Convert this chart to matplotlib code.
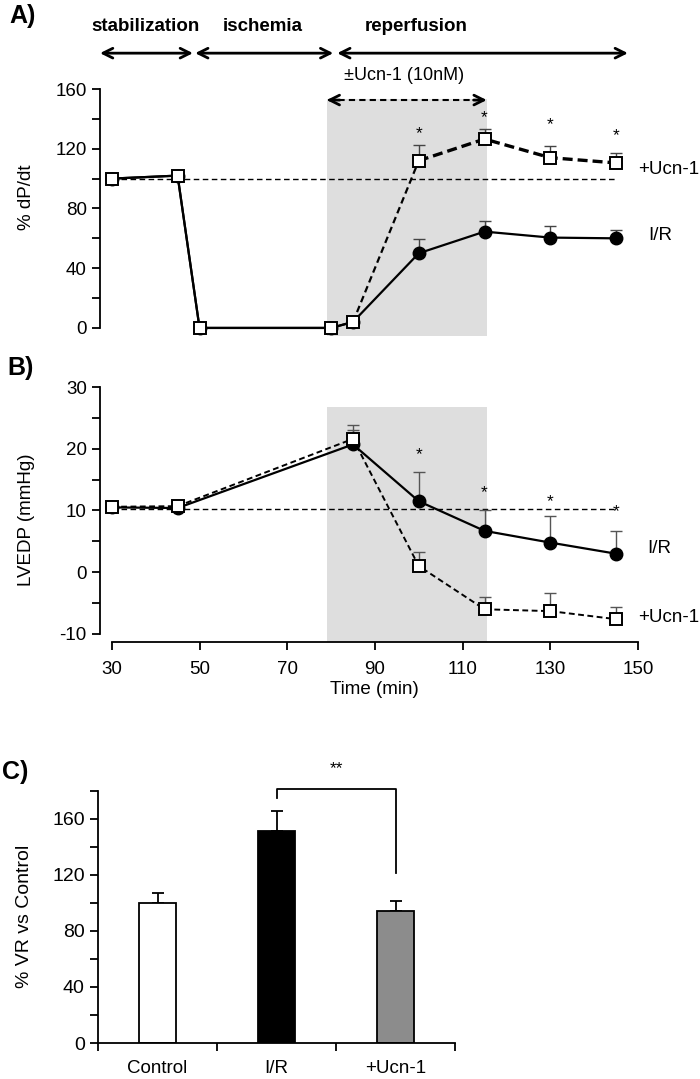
import matplotlib
matplotlib.use("Agg")
import matplotlib.pyplot as plt
import numpy as np

plt.rcParams['font.family'] = ['Liberation Sans', 'DejaVu Sans']

# ---- data ----
time_a = [30, 45, 50, 80, 85, 100, 115, 130, 145]
dpdt_ir = [100, 102, 0, 0, 4, 50, 64.5, 60.5, 60]
dpdt_ir_err = [0, 0, 0, 0, 0, 9.6, 7.3, 8.0, 5.6]
dpdt_ucn = [100, 102, 0, 0, 4, 112, 126.5, 114, 110.5]
dpdt_ucn_err = [0, 0, 0, 0, 0, 10.5, 7.0, 7.6, 6.4]

time_b = [30, 45, 85, 100, 115, 130, 145]
lvedp_ir = [10.5, 10.4, 20.7, 11.5, 6.7, 4.8, 3.0]
lvedp_ir_err = [0, 0, 2.3, 4.7, 3.4, 4.3, 3.7]
lvedp_ucn = [10.6, 10.7, 21.6, 1.0, -6.0, -6.3, -7.6]
lvedp_ucn_err = [0, 0, 2.3, 2.3, 2.0, 3.0, 1.9]

star_times = [100, 115, 130, 145]
stars_a = [130, 141, 136, 128.5]
stars_b = [19, 12.9, 11.4, 9.8]

bar_labels = ['Control', 'I/R', '+Ucn-1']
bar_values = [100, 151, 94.5]
bar_errs = [6.7, 14.5, 6.5]
bar_colors = ['white', 'black', '#8c8c8c']

W, H = 700, 1079
fig = plt.figure(figsize=(W/100, H/100), dpi=100)

def fpos(left, right, top, bottom):
    return [left/W, 1-bottom/H, (right-left)/W, (bottom-top)/H]

XL = (27.3, 150)
FS = 13.5

# ---------- Panel A ----------
axA = fig.add_axes(fpos(100, 638, 89, 336))
axA.set_xlim(*XL)
axA.set_ylim(-5.4, 160)
axA.axvspan(79, 115.5, ymin=0, ymax=(153-(-5.4))/(165.4), color='#dedede', lw=0, zorder=0)
axA.plot([30, 145], [100, 100], color='black', lw=1.0, dashes=(4, 2.5), zorder=1)
axA.errorbar(time_a, dpdt_ir, yerr=[np.zeros(len(dpdt_ir_err)), dpdt_ir_err], fmt='none',
             ecolor='#444444', elinewidth=1, capsize=4, capthick=1, zorder=2)
axA.errorbar(time_a, dpdt_ucn, yerr=[np.zeros(len(dpdt_ucn_err)), dpdt_ucn_err], fmt='none',
             ecolor='#444444', elinewidth=1, capsize=4, capthick=1, zorder=2)
axA.plot(time_a, dpdt_ir, color='black', lw=1.6, marker='o', ms=9, mfc='black', mec='black', zorder=3)
axA.plot(time_a[4:6], dpdt_ucn[4:6], color='black', lw=1.6, dashes=(3, 1.8), zorder=3)
axA.plot(time_a[5:], dpdt_ucn[5:], color='black', lw=2.4, dashes=(3, 1.5), zorder=3)
axA.plot(time_a[:5], dpdt_ucn[:5], color='black', lw=1.6, zorder=3)
axA.plot(time_a, dpdt_ucn, ls='none', marker='s', ms=9, mfc='white', mec='black', mew=1.4, zorder=4)
for t, s in zip(star_times, stars_a):
    axA.text(t, s, '*', ha='center', va='center', fontsize=12.5)
for s in ['top', 'right', 'bottom']:
    axA.spines[s].set_visible(False)
axA.spines['left'].set_bounds(0, 160)
axA.spines['left'].set_linewidth(1.3)
axA.set_yticks(np.arange(0, 161, 20))
axA.set_yticklabels([str(v) if v % 40 == 0 else '' for v in range(0, 161, 20)])
axA.tick_params(axis='y', direction='out', length=6, width=1.3, labelsize=FS)
axA.set_xticks([])
axA.set_ylabel('% dP/dt', fontsize=FS)
axA.yaxis.set_label_coords(-0.121, 0.56)
axA.text(150, 105.8, '+Ucn-1', fontsize=FS, va='center', ha='left', clip_on=False)
axA.text(152.3, 62.2, 'I/R', fontsize=FS, va='center', ha='left', clip_on=False)

# phase arrows
ya = 184
for x0, x1 in [(27.3, 48.5), (49, 80.5), (81.4, 147.7)]:
    axA.annotate('', xy=(x1, ya), xytext=(x0, ya), annotation_clip=False,
                 arrowprops=dict(arrowstyle='<->,head_length=0.7,head_width=0.35', lw=2, color='black',
                                 shrinkA=0, shrinkB=0))
for xc, lab in [(37.7, 'stabilization'), (64.4, 'ischemia'), (99.3, 'reperfusion')]:
    axA.text(xc, 202, lab, fontsize=FS, fontweight='bold', ha='center', va='center', clip_on=False)
axA.text(96.6, 169.3, '±Ucn-1 (10nM)', fontsize=FS - 0.5, ha='center', va='center', clip_on=False)
yd = 152.6
axA.plot([79.3, 115.2], [yd, yd], color='black', lw=1.5, dashes=(3, 2), clip_on=False, zorder=5)
axA.annotate('', xy=(79, yd), xytext=(82, yd), annotation_clip=False,
             arrowprops=dict(arrowstyle='->,head_length=0.7,head_width=0.35', lw=2, color='black',
                             shrinkA=0, shrinkB=0))
axA.annotate('', xy=(115.5, yd), xytext=(112.5, yd), annotation_clip=False,
             arrowprops=dict(arrowstyle='->,head_length=0.7,head_width=0.35', lw=2, color='black',
                             shrinkA=0, shrinkB=0))

# ---------- Panel B ----------
axB = fig.add_axes(fpos(100, 638, 387, 642))
axB.set_xlim(*XL)
axB.set_ylim(-11.3, 30)
axB.axvspan(79, 115.5, ymin=0, ymax=(26.8+11.3)/41.3, color='#dedede', lw=0, zorder=0)
axB.plot([30, 145], [10.2, 10.2], color='black', lw=1.0, dashes=(4, 2.5), zorder=1)
axB.errorbar(time_b, lvedp_ir, yerr=[np.zeros(len(lvedp_ir_err)), lvedp_ir_err], fmt='none',
             ecolor='#555555', elinewidth=1, capsize=4, capthick=1, zorder=2)
axB.errorbar(time_b, lvedp_ucn, yerr=[np.zeros(len(lvedp_ucn_err)), lvedp_ucn_err], fmt='none',
             ecolor='#555555', elinewidth=1, capsize=4, capthick=1, zorder=2)
axB.plot(time_b, lvedp_ir, color='black', lw=1.6, marker='o', ms=9, mfc='black', mec='black', zorder=3)
axB.plot(time_b, lvedp_ucn, color='black', lw=1.4, dashes=(3, 1.8), marker='s', ms=9,
         mfc='white', mec='black', mew=1.4, zorder=4)
for t, s in zip(star_times, stars_b):
    axB.text(t, s, '*', ha='center', va='center', fontsize=12.5)
for s in ['top', 'right']:
    axB.spines[s].set_visible(False)
axB.spines['left'].set_bounds(-10, 30)
axB.spines['bottom'].set_bounds(30, 150)
axB.spines['left'].set_linewidth(1.3)
axB.spines['bottom'].set_linewidth(1.3)
axB.set_yticks(np.arange(-10, 31, 5))
axB.set_yticklabels([str(v) if v % 10 == 0 else '' for v in range(-10, 31, 5)])
axB.set_xticks(np.arange(30, 151, 20))
axB.tick_params(direction='out', length=6, width=1.3, labelsize=FS)
axB.tick_params(axis='x', pad=8)
axB.set_ylabel('LVEDP (mmHg)', fontsize=FS)
axB.yaxis.set_label_coords(-0.121, 0.48)
axB.text(152.1, 3.9, 'I/R', fontsize=FS, va='center', ha='left', clip_on=False)
axB.text(150, -7.4, '+Ucn-1', fontsize=FS, va='center', ha='left', clip_on=False)
fig.text(374/W, 1-690/H, 'Time (min)', fontsize=FS, ha='center', va='center')

# ---------- Panel C ----------
axC = fig.add_axes(fpos(98, 455, 790.7, 1043))
xs = np.arange(len(bar_labels))
axC.bar(xs, bar_values, width=0.31, color=bar_colors, edgecolor='black', lw=1.3, zorder=2)
axC.errorbar(xs, bar_values, yerr=[np.zeros(len(bar_errs)), bar_errs], fmt='none', ecolor='black',
             elinewidth=1.3, capsize=4, capthick=1.3, zorder=1)
axC.set_xlim(-0.5, 2.5)
axC.set_ylim(0, 180)
for s in ['top', 'right']:
    axC.spines[s].set_visible(False)
axC.spines['left'].set_linewidth(1.3)
axC.spines['bottom'].set_linewidth(1.3)
axC.set_yticks(np.arange(0, 181, 20))
axC.set_yticklabels([str(v) if v % 40 == 0 else '' for v in range(0, 181, 20)])
axC.set_xticks([-0.5, 0.5, 1.5, 2.5])
axC.set_xticklabels([])
axC.set_xticks(xs, minor=True)
axC.set_xticklabels(bar_labels, minor=True)
axC.tick_params(axis='x', which='minor', length=0, pad=12, labelsize=FS)
axC.tick_params(axis='x', which='major', direction='out', length=6, width=1.3)
axC.tick_params(axis='y', direction='out', length=6, width=1.3, labelsize=FS + 0.5)
axC.set_ylabel('% VR vs Control', fontsize=FS + 0.5)
axC.yaxis.set_label_coords(-0.182, 0.5)
axC.plot([1, 1, 2, 2], [175, 181.4, 181.4, 121], color='black', lw=1.3, clip_on=False)
axC.text(1.5, 196, '**', ha='center', va='center', fontsize=12.5, clip_on=False)

# panel letters
fig.text(9/W, 1-16/H, 'A)', fontsize=18, fontweight='bold', ha='left', va='center')
fig.text(7/W, 1-368/H, 'B)', fontsize=18, fontweight='bold', ha='left', va='center')
fig.text(2/W, 1-772/H, 'C)', fontsize=18, fontweight='bold', ha='left', va='center')

fig.savefig('out.png', dpi=100)
